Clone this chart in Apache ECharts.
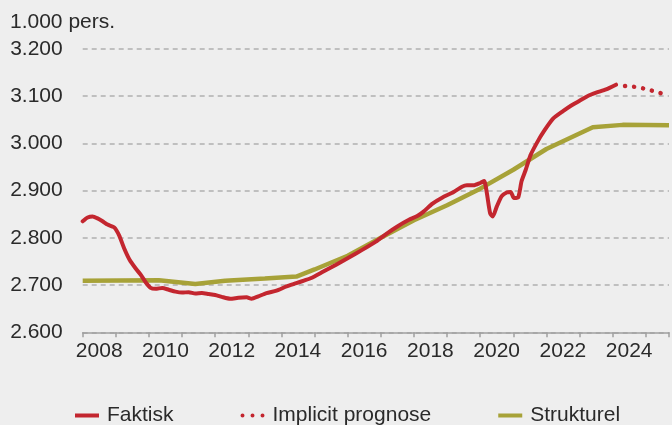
<!DOCTYPE html>
<html>
<head>
<meta charset="utf-8">
<script src="https://cdn.jsdelivr.net/npm/echarts@6/dist/echarts.min.js"></script>
<style>
html,body{margin:0;padding:0;background:#eeeeee;}
#c{width:672px;height:425px;}
</style>
</head>
<body>
<div id="c"></div>
<script>
// Faktisk (actual), decimal year / 1.000 persons
const faktiskT = [2008.0,2008.15,2008.3,2008.45,2008.6,2008.75,2008.95,2009.1,2009.25,2009.42,2009.6,2009.75,2009.9,2010.05,2010.2,2010.4,2010.6,2010.8,2011.0,2011.2,2011.4,2011.6,2011.8,2012.0,2012.2,2012.45,2012.7,2012.95,2013.1,2013.3,2013.55,2013.85,2014.15,2014.45,2014.7,2014.9,2015.25,2015.65,2016.05,2016.45,2016.85,2017.2,2017.5,2017.85,2018.1,2018.3,2018.55,2018.85,2019.2,2019.45,2019.6,2019.8,2020.0,2020.12,2020.2,2020.3,2020.38,2020.5,2020.65,2020.8,2020.92,2021.02,2021.15,2021.25,2021.37,2021.52,2021.72,2021.92,2022.2,2022.5,2022.75,2023.0,2023.25,2023.5,2023.8,2024.1];
const faktiskV = [2835,2843,2845,2841,2835,2828,2822,2805,2778,2753,2735,2722,2706,2694,2692,2694,2690,2686,2684,2685,2682,2683,2681,2679,2675,2671,2673,2674,2671,2676,2683,2688,2697,2704,2710,2715,2728,2743,2759,2775,2792,2810,2824,2838,2846,2856,2872,2885,2897,2908,2911,2911,2916,2920,2895,2852,2845,2866,2888,2896,2897,2884,2886,2920,2943,2975,3002,3025,3052,3068,3080,3090,3100,3107,3114,3124];
// Implicit prognose
const prognoseT = [2024.1,2024.4,2024.7,2025.0,2025.3,2025.7];
const prognoseV = [3124,3121,3119,3115,3109,3101];
// Strukturel
const strukturelT = [2008.0,2010.3,2011.4,2012.3,2013.5,2014.45,2015.0,2016.0,2017.0,2018.0,2019.0,2020.0,2021.0,2022.0,2023.4,2024.3,2025.7];
const strukturelV = [2709,2710,2702,2709,2714,2718,2733,2762,2800,2837,2869,2904,2944,2988,3034,3039,3038];
// Axis
const yTicks = [2600,2700,2800,2900,3000,3100,3200];
const xLabelYears = [2008,2010,2012,2014,2016,2018,2020,2022,2024];
const yUnit = '1.000 pers.';

const zip = (t,v)=>t.map((x,i)=>[x,v[i]]);
const fmtThousand = v => { const s = String(Math.round(v)); return s.length>3 ? s.slice(0,s.length-3)+'.'+s.slice(-3) : s; };

const FONT = "'Liberation Sans', Arial, sans-serif";
const RED = '#c3262f', GREEN = '#a7a238';
const ICON_BAR = 'path://M0,0H24V4H0Z';
const ICON_DOTS = 'path://M0,2a2,2 0 1,0 4,0a2,2 0 1,0 -4,0ZM10,2a2,2 0 1,0 4,0a2,2 0 1,0 -4,0ZM20,2a2,2 0 1,0 4,0a2,2 0 1,0 -4,0Z';

const chart = echarts.init(document.getElementById('c'), null, {renderer:'canvas'});
chart.setOption({
  backgroundColor:'#eeeeee',
  animation:false,
  textStyle:{fontFamily:FONT},
  title:{text:yUnit,left:10,top:12,padding:0,textStyle:{fontFamily:FONT,fontSize:21,fontWeight:'normal',color:'#2a2a2a'}},
  grid:{left:82.7,right:0,top:48.8,bottom:92.7,containLabel:false},
  xAxis:{type:'value',min:2008,max:2025.7,interval:1,
    axisLine:{show:true,lineStyle:{color:'#a0a0a0',width:1.5}},
    axisTick:{show:true,length:5,lineStyle:{color:'#a0a0a0',width:1.5}},
    splitLine:{show:false},
    axisLabel:{margin:8,fontSize:21,color:'#2a2a2a',fontFamily:FONT,padding:[0,0,0,33],
      formatter:v=> xLabelYears.indexOf(Math.round(v))>=0 && Math.abs(v-Math.round(v))<1e-6 ? String(Math.round(v)) : ''}
  },
  yAxis:{type:'value',min:yTicks[0],max:yTicks[yTicks.length-1],interval:100,
    axisLine:{show:false},axisTick:{show:false},
    splitLine:{show:true,lineStyle:{color:'#b0b0b0',width:1.5,type:[5,4]}},
    axisLabel:{margin:20,fontSize:21,color:'#2a2a2a',fontFamily:FONT,formatter:v=>fmtThousand(v)}
  },
  legend:{left:70,top:400,itemGap:67,itemWidth:24,itemHeight:4,
    textStyle:{fontSize:21,color:'#2a2a2a',fontFamily:FONT,padding:[0,0,0,3]},
    data:[
      {name:'Faktisk',icon:ICON_BAR,itemStyle:{color:RED,borderWidth:0}},
      {name:'Implicit prognose',icon:ICON_DOTS,itemStyle:{color:RED,borderWidth:0}},
      {name:'Strukturel',icon:ICON_BAR,itemStyle:{color:GREEN,borderWidth:0}}
    ]},
  series:[
    {name:'Strukturel',type:'line',data:zip(strukturelT,strukturelV),symbol:'none',z:2,
      lineStyle:{color:GREEN,width:4.5},itemStyle:{color:GREEN}},
    {name:'Faktisk',type:'line',data:zip(faktiskT,faktiskV),symbol:'none',smooth:0.2,z:3,
      lineStyle:{color:RED,width:4,cap:'round',join:'round'},itemStyle:{color:RED}},
    {name:'Implicit prognose',type:'line',data:zip(prognoseT,prognoseV),symbol:'none',smooth:0.3,z:3,
      lineStyle:{color:RED,width:4.5,type:[0.1,9],cap:'round',dashOffset:-9},itemStyle:{color:RED}}
  ]
});
</script>
</body>
</html>
